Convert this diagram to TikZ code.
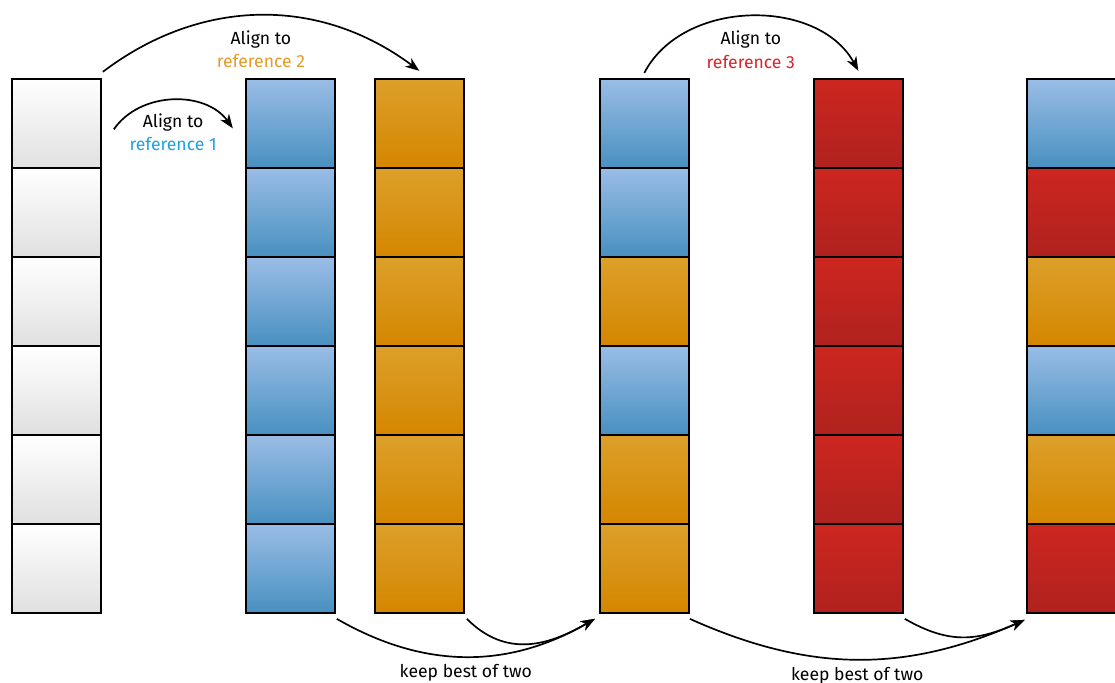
\documentclass[tikz,border=0pt]{standalone}
\usepackage{fontspec}
\setmainfont{Fira Sans}
\usetikzlibrary{matrix}
\usetikzlibrary{arrows.meta}
\usetikzlibrary{positioning}

\definecolor{bluetop}{HTML}{9ABDE6}
\definecolor{bluemid}{HTML}{8BB4E0}
\definecolor{bluebot}{HTML}{4890C0}
\definecolor{orangetop}{HTML}{DCA02A}
\definecolor{orangebot}{HTML}{D58600}
\definecolor{redtop}{HTML}{CD2620}
\definecolor{redbot}{HTML}{B0221E}
\definecolor{greybot}{HTML}{E0E0E0}
\definecolor{refone}{HTML}{1BA1E2}
\definecolor{reftwo}{HTML}{E59A2A}
\definecolor{refthree}{HTML}{D7262A}

\tikzset{
  cell/.style={draw, line width=1.2pt, minimum size=2.225cm, inner sep=0pt, outer sep=0pt},
  wcell/.style={cell, top color=white, bottom color=greybot},
  bcell/.style={cell, top color=bluetop, middle color=bluemid, bottom color=bluebot},
  ocell/.style={cell, top color=orangetop, bottom color=orangebot},
  rcell/.style={cell, top color=redtop, bottom color=redbot},
  flow/.style={line width=1.2pt, -{Stealth[length=10pt,width=7.5pt,inset=3pt]}},
  lbl/.style={align=center, inner sep=2pt, font=\fontsize{12.5}{16.5}\selectfont}
}

\begin{document}
\begin{tikzpicture}
\useasboundingbox (0,0) rectangle (27.875,-17.05);
\matrix (col) [matrix of nodes, nodes in empty cells, inner sep=0pt, outer sep=0pt,
row sep=-1.2pt, column sep=-1.2pt, anchor=north west] at (0.275,-1.95)
{
|[wcell]| &[3.625cm] |[bcell]| &[1cm] |[ocell]| &[3.4cm] |[bcell]| &[3.125cm] |[rcell]| &[3.1cm] |[bcell]| \\
|[wcell]| & |[bcell]| & |[ocell]| & |[bcell]| & |[rcell]| & |[rcell]| \\
|[wcell]| & |[bcell]| & |[ocell]| & |[ocell]| & |[rcell]| & |[ocell]| \\
|[wcell]| & |[bcell]| & |[ocell]| & |[bcell]| & |[rcell]| & |[bcell]| \\
|[wcell]| & |[bcell]| & |[ocell]| & |[ocell]| & |[rcell]| & |[ocell]| \\
|[wcell]| & |[bcell]| & |[ocell]| & |[ocell]| & |[rcell]| & |[rcell]| \\
};

% alignment steps
\draw[flow] ([shift={(0.325,-0.15)}]col-1-1.east) to[bend left=55]
  node[lbl,below=7pt] {Align to\\\textcolor{refone}{reference 1}} ([shift={(-0.325,-0.125)}]col-1-2.west);
\draw[flow] ([shift={(0.05,0.175)}]col-1-1.north east) to[bend left=37]
  node[lbl,below=8pt] {Align to\\\textcolor{reftwo}{reference 2}} ([yshift=0.2cm]col-1-3.north);
\draw[flow] ([yshift=0.15cm]col-1-4.north) to[bend left=62]
  node[lbl,below=8pt] {Align to\\\textcolor{refthree}{reference 3}} ([yshift=0.2cm]col-1-5.north);

% merging steps
\draw[flow] ([shift={(0.05,-0.15)}]col-6-2.south east) to[bend right=30]
  node[lbl,below=3pt] {keep best of two} ([shift={(-0.125,-0.15)}]col-6-4.south west);
\draw[flow] ([shift={(0.075,-0.15)}]col-6-3.south east) to[out=-45,in=-150,looseness=1.1]
  ([shift={(-0.125,-0.15)}]col-6-4.south west);
\draw[flow] ([shift={(0.025,-0.15)}]col-6-4.south east) to[bend right=24]
  node[lbl,below=3pt] {keep best of two} ([shift={(-0.05,-0.175)}]col-6-6.south west);
\draw[flow] ([shift={(0.05,-0.15)}]col-6-5.south east) to[out=-30,in=-156,looseness=1.1]
  ([shift={(-0.05,-0.175)}]col-6-6.south west);
\end{tikzpicture}
\end{document}
